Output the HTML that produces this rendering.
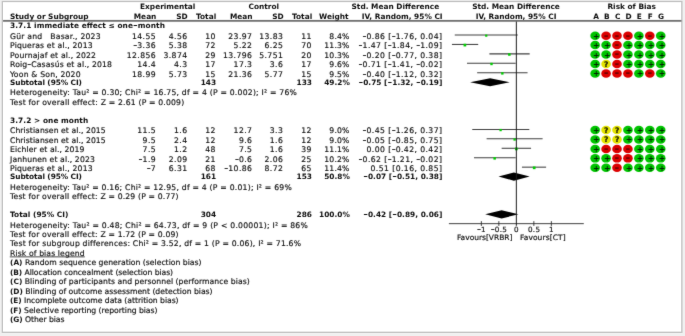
<!DOCTYPE html>
<html lang="en"><head><meta charset="utf-8"><title>Forest plot</title>
<style>
html,body{margin:0;padding:0;}
body{width:685px;height:336px;background:#f0f0f0;overflow:hidden;position:relative;}
#card{position:absolute;left:2px;top:1px;width:680px;height:332px;background:#fff;}
svg{position:absolute;left:0;top:0;font-family:"DejaVu Sans","Liberation Sans",sans-serif;}
text{white-space:pre;fill:#101010;stroke:#101010;stroke-width:0.17px;stroke-linejoin:round;}
.r{font-size:7.7px;letter-spacing:0.19px;}
.b{font-size:7.4px;letter-spacing:0.0px;font-weight:bold;fill:#0c0c0c;stroke:none;}
.nb{letter-spacing:0.02px;}
.n{letter-spacing:0.42px;}
.hy{font-size:11px;letter-spacing:0;font-weight:normal;fill-opacity:0.85;}
.b .hy{font-size:13px;font-weight:normal;fill-opacity:1;}
.lb{stroke:none;font-weight:bold;font-size:7.4px;}
.ul{text-decoration:underline;}
.a{font-size:7.2px;letter-spacing:0.35px;}
.f{font-size:7.5px;}
.q{font-size:7.6px;font-weight:bold;fill:#141400;}
.p{font-size:7.8px;font-weight:bold;fill:#032203;stroke:none;}
.m{font-size:11.5px;font-weight:bold;fill:#5a0000;fill-opacity:0.8;stroke:none;}
.ci{stroke:#3e3e3e;stroke-width:1.05;}
.ax{stroke:#2a2a2a;stroke-width:0.9;}
.sy{stroke:#032203;stroke-width:1.3;fill:none;}
.sm{stroke:#5a0000;stroke-width:1.3;fill:none;opacity:0.8;}
</style></head><body>
<div id="card"></div>
<svg width="685" height="336" viewBox="0 0 685 336">
<rect x="2.35" y="1.5" width="679.5" height="330.8" fill="#fff" stroke="#c5c5c5" stroke-width="1.35"/>
<defs><filter id="soft" x="0" y="0" width="685" height="336" filterUnits="userSpaceOnUse" color-interpolation-filters="sRGB"><feConvolveMatrix order="3" kernelMatrix="0.01 0.07 0.01 0.07 0.68 0.07 0.01 0.07 0.01" divisor="1" edgeMode="duplicate" preserveAlpha="false"/></filter></defs>
<g id="gfx" filter="url(#soft)">
<line x1="454.75" y1="35.00" x2="517.75" y2="35.00" class="ci"/>
<rect x="485.15" y="34.55" width="2.2" height="2.2" fill="#00cc00"/>
<ellipse cx="595.15" cy="35.65" rx="4.8" ry="4.25" fill="#00c400"/>
<ellipse cx="606.08" cy="35.65" rx="4.8" ry="4.25" fill="#dc0000"/>
<ellipse cx="617.01" cy="35.65" rx="4.8" ry="4.25" fill="#dc0000"/>
<ellipse cx="627.94" cy="35.65" rx="4.8" ry="4.25" fill="#dc0000"/>
<ellipse cx="638.87" cy="35.65" rx="4.8" ry="4.25" fill="#00c400"/>
<ellipse cx="649.80" cy="35.65" rx="4.8" ry="4.25" fill="#dc0000"/>
<ellipse cx="660.73" cy="35.65" rx="4.8" ry="4.25" fill="#00c400"/>
<line x1="451.95" y1="44.44" x2="478.20" y2="44.44" class="ci"/>
<rect x="463.55" y="43.74" width="2.7" height="2.7" fill="#00cc00"/>
<ellipse cx="595.15" cy="45.09" rx="4.8" ry="4.25" fill="#00c400"/>
<ellipse cx="606.08" cy="45.09" rx="4.8" ry="4.25" fill="#00c400"/>
<ellipse cx="617.01" cy="45.09" rx="4.8" ry="4.25" fill="#dc0000"/>
<ellipse cx="627.94" cy="45.09" rx="4.8" ry="4.25" fill="#00c400"/>
<ellipse cx="638.87" cy="45.09" rx="4.8" ry="4.25" fill="#00c400"/>
<ellipse cx="649.80" cy="45.09" rx="4.8" ry="4.25" fill="#00c400"/>
<ellipse cx="660.73" cy="45.09" rx="4.8" ry="4.25" fill="#00c400"/>
<line x1="489.40" y1="53.88" x2="529.65" y2="53.88" class="ci"/>
<rect x="508.10" y="53.28" width="2.5" height="2.5" fill="#00cc00"/>
<ellipse cx="595.15" cy="54.53" rx="4.8" ry="4.25" fill="#00c400"/>
<ellipse cx="606.08" cy="54.53" rx="4.8" ry="4.25" fill="#00c400"/>
<ellipse cx="617.01" cy="54.53" rx="4.8" ry="4.25" fill="#dc0000"/>
<ellipse cx="627.94" cy="54.53" rx="4.8" ry="4.25" fill="#00c400"/>
<ellipse cx="638.87" cy="54.53" rx="4.8" ry="4.25" fill="#00c400"/>
<ellipse cx="649.80" cy="54.53" rx="4.8" ry="4.25" fill="#00c400"/>
<ellipse cx="660.73" cy="54.53" rx="4.8" ry="4.25" fill="#00c400"/>
<line x1="467.00" y1="63.32" x2="515.65" y2="63.32" class="ci"/>
<rect x="490.30" y="62.77" width="2.4" height="2.4" fill="#00cc00"/>
<ellipse cx="595.15" cy="63.97" rx="4.8" ry="4.25" fill="#00c400"/>
<ellipse cx="606.08" cy="63.97" rx="4.8" ry="4.25" fill="#e4e400"/>
<ellipse cx="617.01" cy="63.97" rx="4.8" ry="4.25" fill="#dc0000"/>
<ellipse cx="627.94" cy="63.97" rx="4.8" ry="4.25" fill="#00c400"/>
<ellipse cx="638.87" cy="63.97" rx="4.8" ry="4.25" fill="#00c400"/>
<ellipse cx="649.80" cy="63.97" rx="4.8" ry="4.25" fill="#00c400"/>
<ellipse cx="660.73" cy="63.97" rx="4.8" ry="4.25" fill="#00c400"/>
<line x1="477.15" y1="72.76" x2="527.55" y2="72.76" class="ci"/>
<rect x="501.15" y="72.21" width="2.4" height="2.4" fill="#00cc00"/>
<ellipse cx="595.15" cy="73.41" rx="4.8" ry="4.25" fill="#00c400"/>
<ellipse cx="606.08" cy="73.41" rx="4.8" ry="4.25" fill="#dc0000"/>
<ellipse cx="617.01" cy="73.41" rx="4.8" ry="4.25" fill="#dc0000"/>
<ellipse cx="627.94" cy="73.41" rx="4.8" ry="4.25" fill="#dc0000"/>
<ellipse cx="638.87" cy="73.41" rx="4.8" ry="4.25" fill="#00c400"/>
<ellipse cx="649.80" cy="73.41" rx="4.8" ry="4.25" fill="#dc0000"/>
<ellipse cx="660.73" cy="73.41" rx="4.8" ry="4.25" fill="#00c400"/>
<polygon points="470.15,82.20 490.10,78.15 509.70,82.20 490.10,86.25" fill="#000"/>
<line x1="472.25" y1="129.40" x2="529.30" y2="129.40" class="ci"/>
<rect x="499.45" y="128.90" width="2.3" height="2.3" fill="#00cc00"/>
<ellipse cx="595.15" cy="130.05" rx="4.8" ry="4.25" fill="#00c400"/>
<ellipse cx="606.08" cy="130.05" rx="4.8" ry="4.25" fill="#e4e400"/>
<ellipse cx="617.01" cy="130.05" rx="4.8" ry="4.25" fill="#e4e400"/>
<ellipse cx="627.94" cy="130.05" rx="4.8" ry="4.25" fill="#00c400"/>
<ellipse cx="638.87" cy="130.05" rx="4.8" ry="4.25" fill="#00c400"/>
<ellipse cx="649.80" cy="130.05" rx="4.8" ry="4.25" fill="#00c400"/>
<ellipse cx="660.73" cy="130.05" rx="4.8" ry="4.25" fill="#00c400"/>
<line x1="486.60" y1="138.84" x2="542.60" y2="138.84" class="ci"/>
<rect x="513.45" y="138.34" width="2.3" height="2.3" fill="#00cc00"/>
<ellipse cx="595.15" cy="139.49" rx="4.8" ry="4.25" fill="#00c400"/>
<ellipse cx="606.08" cy="139.49" rx="4.8" ry="4.25" fill="#e4e400"/>
<ellipse cx="617.01" cy="139.49" rx="4.8" ry="4.25" fill="#e4e400"/>
<ellipse cx="627.94" cy="139.49" rx="4.8" ry="4.25" fill="#00c400"/>
<ellipse cx="638.87" cy="139.49" rx="4.8" ry="4.25" fill="#00c400"/>
<ellipse cx="649.80" cy="139.49" rx="4.8" ry="4.25" fill="#00c400"/>
<ellipse cx="660.73" cy="139.49" rx="4.8" ry="4.25" fill="#00c400"/>
<line x1="501.65" y1="148.28" x2="531.05" y2="148.28" class="ci"/>
<rect x="515.00" y="147.58" width="2.7" height="2.7" fill="#00cc00"/>
<ellipse cx="595.15" cy="148.93" rx="4.8" ry="4.25" fill="#00c400"/>
<ellipse cx="606.08" cy="148.93" rx="4.8" ry="4.25" fill="#dc0000"/>
<ellipse cx="617.01" cy="148.93" rx="4.8" ry="4.25" fill="#dc0000"/>
<ellipse cx="627.94" cy="148.93" rx="4.8" ry="4.25" fill="#dc0000"/>
<ellipse cx="638.87" cy="148.93" rx="4.8" ry="4.25" fill="#00c400"/>
<ellipse cx="649.80" cy="148.93" rx="4.8" ry="4.25" fill="#00c400"/>
<ellipse cx="660.73" cy="148.93" rx="4.8" ry="4.25" fill="#00c400"/>
<line x1="474.00" y1="157.72" x2="515.65" y2="157.72" class="ci"/>
<rect x="493.40" y="157.12" width="2.5" height="2.5" fill="#00cc00"/>
<ellipse cx="595.15" cy="158.37" rx="4.8" ry="4.25" fill="#00c400"/>
<ellipse cx="606.08" cy="158.37" rx="4.8" ry="4.25" fill="#00c400"/>
<ellipse cx="617.01" cy="158.37" rx="4.8" ry="4.25" fill="#dc0000"/>
<ellipse cx="627.94" cy="158.37" rx="4.8" ry="4.25" fill="#dc0000"/>
<ellipse cx="638.87" cy="158.37" rx="4.8" ry="4.25" fill="#00c400"/>
<ellipse cx="649.80" cy="158.37" rx="4.8" ry="4.25" fill="#00c400"/>
<ellipse cx="660.73" cy="158.37" rx="4.8" ry="4.25" fill="#00c400"/>
<line x1="521.95" y1="167.16" x2="546.10" y2="167.16" class="ci"/>
<rect x="532.85" y="166.46" width="2.7" height="2.7" fill="#00cc00"/>
<ellipse cx="595.15" cy="167.81" rx="4.8" ry="4.25" fill="#00c400"/>
<ellipse cx="606.08" cy="167.81" rx="4.8" ry="4.25" fill="#00c400"/>
<ellipse cx="617.01" cy="167.81" rx="4.8" ry="4.25" fill="#dc0000"/>
<ellipse cx="627.94" cy="167.81" rx="4.8" ry="4.25" fill="#00c400"/>
<ellipse cx="638.87" cy="167.81" rx="4.8" ry="4.25" fill="#00c400"/>
<ellipse cx="649.80" cy="167.81" rx="4.8" ry="4.25" fill="#00c400"/>
<ellipse cx="660.73" cy="167.81" rx="4.8" ry="4.25" fill="#00c400"/>
<polygon points="498.50,176.60 513.90,172.55 529.65,176.60 513.90,180.65" fill="#000"/>
<polygon points="485.20,214.36 501.65,210.31 518.45,214.36 501.65,218.41" fill="#000"/>
<rect x="9.8" y="256.45" width="75" height="0.85" fill="#2a2a2a"/>
<line x1="448.9" y1="223.65" x2="583.8" y2="223.65" class="ax"/>
<line x1="516.35" y1="21" x2="516.35" y2="225.85" stroke="#1c1c1c" stroke-width="1"/>
<line x1="481.35" y1="221.15" x2="481.35" y2="225.95000000000002" class="ax"/>
<line x1="498.85" y1="221.15" x2="498.85" y2="225.95000000000002" class="ax"/>
<line x1="533.85" y1="221.15" x2="533.85" y2="225.95000000000002" class="ax"/>
<line x1="551.35" y1="221.15" x2="551.35" y2="225.95000000000002" class="ax"/>
<rect x="3" y="19.95" width="678.5" height="1.8" fill="#6e6e6e"/>
</g>
<g id="labels" filter="url(#soft)" xml:space="preserve">
<text x="167.70" y="9" class="b" text-anchor="middle">Experimental</text>
<text x="263.80" y="9" class="b" text-anchor="middle">Control</text>
<text x="395.40" y="9" class="b" text-anchor="middle">Std. Mean Difference</text>
<text x="516.05" y="9" class="b" text-anchor="middle">Std. Mean Difference</text>
<text x="631.70" y="9" class="b" text-anchor="middle">Risk of Bias</text>
<text x="10.00" y="19" class="b">Study or Subgroup</text>
<text x="156.40" y="19" class="b" text-anchor="end">Mean</text>
<text x="187.60" y="19" class="b" text-anchor="end">SD</text>
<text x="216.20" y="19" class="b" text-anchor="end">Total</text>
<text x="252.50" y="19" class="b" text-anchor="end">Mean</text>
<text x="283.60" y="19" class="b" text-anchor="end">SD</text>
<text x="312.20" y="19" class="b" text-anchor="end">Total</text>
<text x="348.60" y="19" class="b" text-anchor="end">Weight</text>
<text x="402.20" y="19" class="b" text-anchor="middle">IV, Random, 95% CI</text>
<text x="516.05" y="19" class="b" text-anchor="middle">IV, Random, 95% CI</text>
<text x="596.00" y="19" class="b" text-anchor="middle">A</text>
<text x="606.85" y="19" class="b" text-anchor="middle">B</text>
<text x="617.70" y="19" class="b" text-anchor="middle">C</text>
<text x="628.55" y="19" class="b" text-anchor="middle">D</text>
<text x="639.40" y="19" class="b" text-anchor="middle">E</text>
<text x="650.25" y="19" class="b" text-anchor="middle">F</text>
<text x="661.10" y="19" class="b" text-anchor="middle">G</text>
<text x="10.00" y="28" class="b" textLength="154.9" lengthAdjust="spacing">3.7.1 immediate effect ≤ one<tspan class="hy" dy="1">-</tspan><tspan dy="-1">m</tspan>onth</text>
<text x="10.00" y="39" class="r" textLength="90.8" lengthAdjust="spacing">Gür and   Basar., 2023</text>
<text x="156.10" y="39" class="r n" text-anchor="end">14.55</text>
<text x="187.50" y="39" class="r n" text-anchor="end">4.56</text>
<text x="215.90" y="39" class="r n" text-anchor="end">10</text>
<text x="252.40" y="39" class="r n" text-anchor="end">23.97</text>
<text x="283.30" y="39" class="r n" text-anchor="end">13.83</text>
<text x="311.80" y="39" class="r n" text-anchor="end">11</text>
<text x="349.60" y="39" class="r" text-anchor="end">8.4%</text>
<text x="442.40" y="39" class="r n" text-anchor="end"><tspan class="hy">-</tspan>0.86 [<tspan class="hy">-</tspan>1.76, 0.04]</text>
<text x="596.35" y="38.65" class="p" text-anchor="middle">+</text>
<text x="606.08" y="39.55" class="m" text-anchor="middle">-</text>
<text x="617.01" y="39.55" class="m" text-anchor="middle">-</text>
<text x="627.94" y="39.55" class="m" text-anchor="middle">-</text>
<text x="640.07" y="38.65" class="p" text-anchor="middle">+</text>
<text x="649.80" y="39.55" class="m" text-anchor="middle">-</text>
<text x="661.93" y="38.65" class="p" text-anchor="middle">+</text>
<text x="10.00" y="48" class="r" textLength="82.8" lengthAdjust="spacing">Piqueras et al., 2013</text>
<text x="156.10" y="48" class="r n" text-anchor="end"><tspan class="hy">-</tspan>3.36</text>
<text x="187.50" y="48" class="r n" text-anchor="end">5.38</text>
<text x="215.90" y="48" class="r n" text-anchor="end">72</text>
<text x="252.40" y="48" class="r n" text-anchor="end">5.22</text>
<text x="283.30" y="48" class="r n" text-anchor="end">6.25</text>
<text x="311.80" y="48" class="r n" text-anchor="end">70</text>
<text x="349.60" y="48" class="r" text-anchor="end">11.3%</text>
<text x="442.40" y="48" class="r n" text-anchor="end"><tspan class="hy">-</tspan>1.47 [<tspan class="hy">-</tspan>1.84, <tspan class="hy">-</tspan>1.09]</text>
<text x="596.35" y="48.09" class="p" text-anchor="middle">+</text>
<text x="607.28" y="48.09" class="p" text-anchor="middle">+</text>
<text x="617.01" y="48.99" class="m" text-anchor="middle">-</text>
<text x="629.14" y="48.09" class="p" text-anchor="middle">+</text>
<text x="640.07" y="48.09" class="p" text-anchor="middle">+</text>
<text x="651.00" y="48.09" class="p" text-anchor="middle">+</text>
<text x="661.93" y="48.09" class="p" text-anchor="middle">+</text>
<text x="10.00" y="58" class="r" textLength="86.2" lengthAdjust="spacing">Pournajaf et al., 2022</text>
<text x="156.10" y="58" class="r n" text-anchor="end">12.856</text>
<text x="187.50" y="58" class="r n" text-anchor="end">3.874</text>
<text x="215.90" y="58" class="r n" text-anchor="end">29</text>
<text x="252.40" y="58" class="r n" text-anchor="end">13.796</text>
<text x="283.30" y="58" class="r n" text-anchor="end">5.751</text>
<text x="311.80" y="58" class="r n" text-anchor="end">20</text>
<text x="349.60" y="58" class="r" text-anchor="end">10.3%</text>
<text x="442.40" y="58" class="r n" text-anchor="end"><tspan class="hy">-</tspan>0.20 [<tspan class="hy">-</tspan>0.77, 0.38]</text>
<text x="596.35" y="57.53" class="p" text-anchor="middle">+</text>
<text x="607.28" y="57.53" class="p" text-anchor="middle">+</text>
<text x="617.01" y="58.43" class="m" text-anchor="middle">-</text>
<text x="629.14" y="57.53" class="p" text-anchor="middle">+</text>
<text x="640.07" y="57.53" class="p" text-anchor="middle">+</text>
<text x="651.00" y="57.53" class="p" text-anchor="middle">+</text>
<text x="661.93" y="57.53" class="p" text-anchor="middle">+</text>
<text x="10.00" y="67" class="r" textLength="102.2" lengthAdjust="spacing">Roig<tspan class="hy">-</tspan>Casasús et al., 2018</text>
<text x="156.10" y="67" class="r n" text-anchor="end">14.4</text>
<text x="187.50" y="67" class="r n" text-anchor="end">4.3</text>
<text x="215.90" y="67" class="r n" text-anchor="end">17</text>
<text x="252.40" y="67" class="r n" text-anchor="end">17.3</text>
<text x="283.30" y="67" class="r n" text-anchor="end">3.6</text>
<text x="311.80" y="67" class="r n" text-anchor="end">17</text>
<text x="349.60" y="67" class="r" text-anchor="end">9.6%</text>
<text x="442.40" y="67" class="r n" text-anchor="end"><tspan class="hy">-</tspan>0.71 [<tspan class="hy">-</tspan>1.41, <tspan class="hy">-</tspan>0.02]</text>
<text x="596.35" y="66.97" class="p" text-anchor="middle">+</text>
<text x="606.18" y="66.97" class="q" text-anchor="middle">?</text>
<text x="617.01" y="67.87" class="m" text-anchor="middle">-</text>
<text x="629.14" y="66.97" class="p" text-anchor="middle">+</text>
<text x="640.07" y="66.97" class="p" text-anchor="middle">+</text>
<text x="651.00" y="66.97" class="p" text-anchor="middle">+</text>
<text x="661.93" y="66.97" class="p" text-anchor="middle">+</text>
<text x="10.00" y="77" class="r">Yoon &amp; Son, 2020</text>
<text x="156.10" y="77" class="r n" text-anchor="end">18.99</text>
<text x="187.50" y="77" class="r n" text-anchor="end">5.73</text>
<text x="215.90" y="77" class="r n" text-anchor="end">15</text>
<text x="252.40" y="77" class="r n" text-anchor="end">21.36</text>
<text x="283.30" y="77" class="r n" text-anchor="end">5.77</text>
<text x="311.80" y="77" class="r n" text-anchor="end">15</text>
<text x="349.60" y="77" class="r" text-anchor="end">9.5%</text>
<text x="442.40" y="77" class="r n" text-anchor="end"><tspan class="hy">-</tspan>0.40 [<tspan class="hy">-</tspan>1.12, 0.32]</text>
<text x="596.35" y="76.41" class="p" text-anchor="middle">+</text>
<text x="606.08" y="77.31" class="m" text-anchor="middle">-</text>
<text x="617.01" y="77.31" class="m" text-anchor="middle">-</text>
<text x="627.94" y="77.31" class="m" text-anchor="middle">-</text>
<text x="640.07" y="76.41" class="p" text-anchor="middle">+</text>
<text x="649.80" y="77.31" class="m" text-anchor="middle">-</text>
<text x="661.93" y="76.41" class="p" text-anchor="middle">+</text>
<text x="10.00" y="85" class="b" textLength="72.0" lengthAdjust="spacing">Subtotal (95% CI)</text>
<text x="216.10" y="85" class="b" text-anchor="end">143</text>
<text x="312.00" y="85" class="b" text-anchor="end">133</text>
<text x="349.80" y="85" class="b" text-anchor="end">49.2%</text>
<text x="442.40" y="85" class="b nb" text-anchor="end"><tspan class="hy" dy="1">-</tspan><tspan dy="-1">0</tspan>.75 [<tspan class="hy" dy="1">-</tspan><tspan dy="-1">1</tspan>.32, <tspan class="hy" dy="1">-</tspan><tspan dy="-1">0</tspan>.19]</text>
<text x="10.00" y="95" class="r" textLength="287.1" lengthAdjust="spacing">Heterogeneity: Tau² = 0.30; Chi² = 16.75, df = 4 (P = 0.002); I² = 76%</text>
<text x="10.00" y="105" class="r" textLength="174.4" lengthAdjust="spacing">Test for overall effect: Z = 2.61 (P = 0.009)</text>
<text x="10.00" y="123" class="b" textLength="78.2" lengthAdjust="spacing">3.7.2 &gt; one month</text>
<text x="10.00" y="133" class="r" textLength="95.9" lengthAdjust="spacing">Christiansen et al., 2015</text>
<text x="156.10" y="133" class="r n" text-anchor="end">11.5</text>
<text x="187.50" y="133" class="r n" text-anchor="end">1.6</text>
<text x="215.90" y="133" class="r n" text-anchor="end">12</text>
<text x="252.40" y="133" class="r n" text-anchor="end">12.7</text>
<text x="283.30" y="133" class="r n" text-anchor="end">3.3</text>
<text x="311.80" y="133" class="r n" text-anchor="end">12</text>
<text x="349.60" y="133" class="r" text-anchor="end">9.0%</text>
<text x="442.40" y="133" class="r n" text-anchor="end"><tspan class="hy">-</tspan>0.45 [<tspan class="hy">-</tspan>1.26, 0.37]</text>
<text x="596.35" y="133.05" class="p" text-anchor="middle">+</text>
<text x="606.18" y="133.05" class="q" text-anchor="middle">?</text>
<text x="617.11" y="133.05" class="q" text-anchor="middle">?</text>
<text x="629.14" y="133.05" class="p" text-anchor="middle">+</text>
<text x="640.07" y="133.05" class="p" text-anchor="middle">+</text>
<text x="651.00" y="133.05" class="p" text-anchor="middle">+</text>
<text x="661.93" y="133.05" class="p" text-anchor="middle">+</text>
<text x="10.00" y="143" class="r" textLength="95.9" lengthAdjust="spacing">Christiansen et al., 2015</text>
<text x="156.10" y="143" class="r n" text-anchor="end">9.5</text>
<text x="187.50" y="143" class="r n" text-anchor="end">2.4</text>
<text x="215.90" y="143" class="r n" text-anchor="end">12</text>
<text x="252.40" y="143" class="r n" text-anchor="end">9.6</text>
<text x="283.30" y="143" class="r n" text-anchor="end">1.6</text>
<text x="311.80" y="143" class="r n" text-anchor="end">12</text>
<text x="349.60" y="143" class="r" text-anchor="end">9.0%</text>
<text x="442.40" y="143" class="r n" text-anchor="end"><tspan class="hy">-</tspan>0.05 [<tspan class="hy">-</tspan>0.85, 0.75]</text>
<text x="596.35" y="142.49" class="p" text-anchor="middle">+</text>
<text x="606.18" y="142.49" class="q" text-anchor="middle">?</text>
<text x="617.11" y="142.49" class="q" text-anchor="middle">?</text>
<text x="629.14" y="142.49" class="p" text-anchor="middle">+</text>
<text x="640.07" y="142.49" class="p" text-anchor="middle">+</text>
<text x="651.00" y="142.49" class="p" text-anchor="middle">+</text>
<text x="661.93" y="142.49" class="p" text-anchor="middle">+</text>
<text x="10.00" y="152" class="r" textLength="74.7" lengthAdjust="spacing">Eichler et al., 2019</text>
<text x="156.10" y="152" class="r n" text-anchor="end">7.5</text>
<text x="187.50" y="152" class="r n" text-anchor="end">1.2</text>
<text x="215.90" y="152" class="r n" text-anchor="end">48</text>
<text x="252.40" y="152" class="r n" text-anchor="end">7.5</text>
<text x="283.30" y="152" class="r n" text-anchor="end">1.6</text>
<text x="311.80" y="152" class="r n" text-anchor="end">39</text>
<text x="349.60" y="152" class="r" text-anchor="end">11.1%</text>
<text x="442.40" y="152" class="r n" text-anchor="end">0.00 [<tspan class="hy">-</tspan>0.42, 0.42]</text>
<text x="596.35" y="151.93" class="p" text-anchor="middle">+</text>
<text x="606.08" y="152.83" class="m" text-anchor="middle">-</text>
<text x="617.01" y="152.83" class="m" text-anchor="middle">-</text>
<text x="627.94" y="152.83" class="m" text-anchor="middle">-</text>
<text x="640.07" y="151.93" class="p" text-anchor="middle">+</text>
<text x="651.00" y="151.93" class="p" text-anchor="middle">+</text>
<text x="661.93" y="151.93" class="p" text-anchor="middle">+</text>
<text x="10.00" y="162" class="r" textLength="85.0" lengthAdjust="spacing">Janhunen et al., 2023</text>
<text x="156.10" y="162" class="r n" text-anchor="end"><tspan class="hy">-</tspan>1.9</text>
<text x="187.50" y="162" class="r n" text-anchor="end">2.09</text>
<text x="215.90" y="162" class="r n" text-anchor="end">21</text>
<text x="252.40" y="162" class="r n" text-anchor="end"><tspan class="hy">-</tspan>0.6</text>
<text x="283.30" y="162" class="r n" text-anchor="end">2.06</text>
<text x="311.80" y="162" class="r n" text-anchor="end">25</text>
<text x="349.60" y="162" class="r" text-anchor="end">10.2%</text>
<text x="442.40" y="162" class="r n" text-anchor="end"><tspan class="hy">-</tspan>0.62 [<tspan class="hy">-</tspan>1.21, <tspan class="hy">-</tspan>0.02]</text>
<text x="596.35" y="161.37" class="p" text-anchor="middle">+</text>
<text x="607.28" y="161.37" class="p" text-anchor="middle">+</text>
<text x="617.01" y="162.27" class="m" text-anchor="middle">-</text>
<text x="627.94" y="162.27" class="m" text-anchor="middle">-</text>
<text x="640.07" y="161.37" class="p" text-anchor="middle">+</text>
<text x="651.00" y="161.37" class="p" text-anchor="middle">+</text>
<text x="661.93" y="161.37" class="p" text-anchor="middle">+</text>
<text x="10.00" y="171" class="r" textLength="82.8" lengthAdjust="spacing">Piqueras et al., 2013</text>
<text x="156.10" y="171" class="r n" text-anchor="end"><tspan class="hy">-</tspan>7</text>
<text x="187.50" y="171" class="r n" text-anchor="end">6.31</text>
<text x="215.90" y="171" class="r n" text-anchor="end">68</text>
<text x="252.40" y="171" class="r n" text-anchor="end"><tspan class="hy">-</tspan>10.86</text>
<text x="283.30" y="171" class="r n" text-anchor="end">8.72</text>
<text x="311.80" y="171" class="r n" text-anchor="end">65</text>
<text x="349.60" y="171" class="r" text-anchor="end">11.4%</text>
<text x="442.40" y="171" class="r n" text-anchor="end">0.51 [0.16, 0.85]</text>
<text x="596.35" y="170.81" class="p" text-anchor="middle">+</text>
<text x="607.28" y="170.81" class="p" text-anchor="middle">+</text>
<text x="617.01" y="171.71" class="m" text-anchor="middle">-</text>
<text x="629.14" y="170.81" class="p" text-anchor="middle">+</text>
<text x="640.07" y="170.81" class="p" text-anchor="middle">+</text>
<text x="651.00" y="170.81" class="p" text-anchor="middle">+</text>
<text x="661.93" y="170.81" class="p" text-anchor="middle">+</text>
<text x="10.00" y="179" class="b" textLength="72.0" lengthAdjust="spacing">Subtotal (95% CI)</text>
<text x="216.10" y="179" class="b" text-anchor="end">161</text>
<text x="312.00" y="179" class="b" text-anchor="end">153</text>
<text x="349.80" y="179" class="b" text-anchor="end">50.8%</text>
<text x="442.40" y="179" class="b nb" text-anchor="end"><tspan class="hy" dy="1">-</tspan><tspan dy="-1">0</tspan>.07 [<tspan class="hy" dy="1">-</tspan><tspan dy="-1">0</tspan>.51, 0.38]</text>
<text x="10.00" y="190" class="r" textLength="281.9" lengthAdjust="spacing">Heterogeneity: Tau² = 0.16; Chi² = 12.95, df = 4 (P = 0.01); I² = 69%</text>
<text x="10.00" y="199" class="r" textLength="168.8" lengthAdjust="spacing">Test for overall effect: Z = 0.29 (P = 0.77)</text>
<text x="10.00" y="217" class="b" textLength="58.4" lengthAdjust="spacing">Total (95% CI)</text>
<text x="216.10" y="217" class="b" text-anchor="end">304</text>
<text x="312.00" y="217" class="b" text-anchor="end">286</text>
<text x="349.80" y="217" class="b" text-anchor="end">100.0%</text>
<text x="442.40" y="217" class="b nb" text-anchor="end"><tspan class="hy" dy="1">-</tspan><tspan dy="-1">0</tspan>.42 [<tspan class="hy" dy="1">-</tspan><tspan dy="-1">0</tspan>.89, 0.06]</text>
<text x="10.00" y="228" class="r" textLength="298.0" lengthAdjust="spacing">Heterogeneity: Tau² = 0.48; Chi² = 64.73, df = 9 (P &lt; 0.00001); I² = 86%</text>
<text x="10.00" y="237" class="r" textLength="168.8" lengthAdjust="spacing">Test for overall effect: Z = 1.72 (P = 0.09)</text>
<text x="10.00" y="246" class="r" textLength="291.2" lengthAdjust="spacing">Test for subgroup differences: Chi² = 3.52, df = 1 (P = 0.06), I² = 71.6%</text>
<text x="10.00" y="256" class="r" textLength="74.8" lengthAdjust="spacing">Risk of bias legend</text>
<text x="10.00" y="265" class="r" textLength="191.7" lengthAdjust="spacing"><tspan class="lb">(A)</tspan> Random sequence generation (selection bias)</text>
<text x="10.00" y="275" class="r" textLength="163.3" lengthAdjust="spacing"><tspan class="lb">(B)</tspan> Allocation concealment (selection bias)</text>
<text x="10.00" y="284" class="r" textLength="239.9" lengthAdjust="spacing"><tspan class="lb">(C)</tspan> Blinding of participants and personnel (performance bias)</text>
<text x="10.00" y="294" class="r" textLength="202.8" lengthAdjust="spacing"><tspan class="lb">(D)</tspan> Blinding of outcome assessment (detection bias)</text>
<text x="10.00" y="303" class="r" textLength="168.8" lengthAdjust="spacing"><tspan class="lb">(E)</tspan> Incomplete outcome data (attrition bias)</text>
<text x="10.00" y="313" class="r" textLength="147.7" lengthAdjust="spacing"><tspan class="lb">(F)</tspan> Selective reporting (reporting bias)</text>
<text x="10.00" y="322" class="r" textLength="54.6" lengthAdjust="spacing"><tspan class="lb">(G)</tspan> Other bias</text>
<text x="481.45" y="232" class="r a" text-anchor="middle"><tspan class="hy">-</tspan>1</text>
<text x="499.05" y="232" class="r a" text-anchor="middle"><tspan class="hy">-</tspan>0.5</text>
<text x="516.45" y="232" class="r a" text-anchor="middle">0</text>
<text x="534.15" y="232" class="r a" text-anchor="middle">0.5</text>
<text x="551.55" y="232" class="r a" text-anchor="middle">1</text>
<text x="457.00" y="240" class="r f" textLength="55.6" lengthAdjust="spacing">Favours[VRBR]</text>
<text x="520.00" y="240" class="r f" textLength="45.8" lengthAdjust="spacing">Favours[CT]</text>
</g>
</svg>
</body></html>
